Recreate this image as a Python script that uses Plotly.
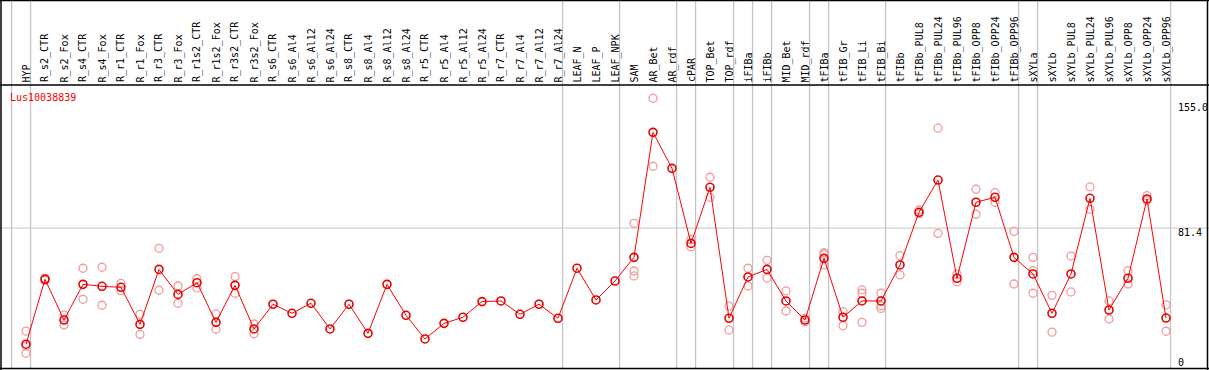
import plotly.graph_objects as go

W, H = 1209, 370

categories = [
    "HYP", "R_s2_CTR", "R_s2_Fox", "R_s4_CTR", "R_s4_Fox", "R_r1_CTR", "R_r1_Fox",
    "R_r3_CTR", "R_r3_Fox", "R_r1s2_CTR", "R_r1s2_Fox", "R_r3s2_CTR", "R_r3s2_Fox",
    "R_s6_CTR", "R_s6_Al4", "R_s6_Al12", "R_s6_Al24", "R_s8_CTR", "R_s8_Al4",
    "R_s8_Al12", "R_s8_Al24", "R_r5_CTR", "R_r5_Al4", "R_r5_Al12", "R_r5_Al24",
    "R_r7_CTR", "R_r7_Al4", "R_r7_Al12", "R_r7_Al24", "LEAF_N", "LEAF_P", "LEAF_NPK",
    "SAM", "AR_Bet", "AR_rdf", "cPAR", "TOP_Bet", "TOP_rdf", "iFIBa", "iFIBb",
    "MID_Bet", "MID_rdf", "tFIBa", "tFIB_Gr", "tFIB_Li", "tFIB_Bi", "tFIBb",
    "tFIBb_PUL8", "tFIBb_PUL24", "tFIBb_PUL96", "tFIBb_OPP8", "tFIBb_OPP24",
    "tFIBb_OPP96", "sXYLa", "sXYLb", "sXYLb_PUL8", "sXYLb_PUL24", "sXYLb_PUL96",
    "sXYLb_OPP8", "sXYLb_OPP24", "sXYLb_OPP96",
]

mean_values = [
    10.8, 50.3, 25.5, 47.2, 46.0, 45.4, 22.9,
    56.3, 41.1, 48.2, 24.1, 46.6, 20.1,
    35.1, 29.6, 35.7, 20.1, 35.1, 17.4,
    47.2, 28.4, 14.0, 23.5, 27.2, 36.7,
    37.1, 29.0, 35.1, 26.6, 57.0, 37.7, 49.2,
    63.6, 139.6, 117.7, 72.1, 106.2, 26.6, 51.7, 56.3,
    37.1, 25.5, 63.0, 27.2, 37.1, 37.1, 59.0,
    91.0, 110.6, 50.9, 97.1, 100.1,
    63.6, 53.5, 29.6, 53.5, 99.5, 31.6,
    50.9, 99.1, 26.7,
]

replicate_values = [
    [18.8, 9.7, 5.3], [50.9, 49.6], [28.6, 22.5], [57.0, 38.1], [57.6, 34.5], [47.8, 43.4], [29.0, 16.8],
    [69.1, 43.6], [46.2, 35.7], [50.6, 45.0], [29.2, 19.9], [51.9, 41.8], [23.1, 17.2],
    [], [], [], [], [], [],
    [], [], [], [], [], [],
    [], [], [], [], [], [], [],
    [84.3, 55.3, 52.3], [160.3, 119.0], [], [74.6, 70.1], [112.3, 100.1], [34.0, 19.5], [57.0, 46.2], [61.8, 51.1],
    [43.2, 31.0], [26.7, 24.5], [66.5, 65.5, 59.0], [30.6, 22.1], [43.8, 41.8, 24.1], [41.8, 34.2, 32.6], [64.6, 52.9],
    [92.4, 90.2], [142.1, 78.2], [53.5, 48.8], [105.0, 89.8], [102.9, 97.1],
    [79.4, 47.4], [63.6, 55.5, 41.8], [40.5, 18.1], [64.4, 42.6], [106.4, 92.8], [37.1, 26.1],
    [55.5, 47.4], [101.1, 98.1], [34.7, 18.7],
]

group_break_after = [-1, 0, 28, 31, 34, 35, 37, 38, 39, 41, 42, 45, 52, 53, 60]

tick_values = [155.0, 81.4, 0]
tick_labels = ["155.0", "81.4", "0"]
title_text = "Lus10038839"

# ---- geometry -------------------------------------------------------------
x_first_px, x_step_px = 26.0, 19.0
x_lo = -x_first_px / x_step_px
x_hi = x_lo + W / x_step_px
y_zero_px, y_scale = 362.0, 255.0 / 155.0
y_hi = y_zero_px / y_scale
y_lo = (y_zero_px - H) / y_scale


def px(p):
    return p / W


def py(p):
    return 1 - p / H


FONT = "DejaVu Sans Mono"
xs = list(range(len(categories)))

fig = go.Figure()

rep_x, rep_y = [], []
for i, reps in enumerate(replicate_values):
    for v in reps:
        rep_x.append(i)
        rep_y.append(v)

fig.add_trace(go.Scatter(
    x=rep_x, y=rep_y, mode="markers", hoverinfo="skip",
    marker=dict(symbol="circle-open", size=8, color="#f09a9a", line=dict(width=1.3)),
))
fig.add_trace(go.Scatter(
    x=xs, y=mean_values, mode="lines+markers",
    line=dict(color="#ff0000", width=1),
    marker=dict(symbol="circle-open", size=8, color="#e80000", line=dict(width=1.6)),
))

shapes = []
# horizontal grid line
shapes.append(dict(type="line", xref="paper", yref="y", x0=0, x1=1, y0=tick_values[1], y1=tick_values[1],
                   line=dict(color="#c4c4c4", width=1), layer="below"))
# group separators
for b in group_break_after:
    shapes.append(dict(type="line", xref="x", yref="paper", x0=b + 0.24, x1=b + 0.24,
                       y0=py(368), y1=1, line=dict(color="#c4c4c4", width=1.3), layer="below"))
# frame
blk = dict(color="black", width=1.5)
shapes += [
    dict(type="line", xref="paper", yref="paper", x0=0, x1=1, y0=py(0.5), y1=py(0.5), line=blk),
    dict(type="line", xref="paper", yref="paper", x0=0, x1=1, y0=py(85), y1=py(85), line=blk),
    dict(type="line", xref="paper", yref="paper", x0=0, x1=1, y0=py(368.5), y1=py(368.5), line=blk),
    dict(type="line", xref="paper", yref="paper", x0=px(1), x1=px(1), y0=0, y1=1, line=blk),
    dict(type="line", xref="paper", yref="paper", x0=px(1207.5), x1=px(1207.5), y0=0, y1=1, line=blk),
]

annotations = []
for i, c in enumerate(categories):
    annotations.append(dict(
        x=i, xref="x", y=py(83.5), yref="paper", text=c, showarrow=False,
        textangle=-90, xanchor="center", yanchor="bottom", borderpad=0,
        font=dict(family=FONT, size=10, color="black"),
    ))
annotations.append(dict(
    x=px(9), xref="paper", y=py(97), yref="paper", text=title_text, showarrow=False,
    xanchor="left", yanchor="middle", borderpad=0,
    font=dict(family=FONT, size=10, color="#ff0000"),
))
shifts = [0, -4, 0]
for v, t, s in zip(tick_values, tick_labels, shifts):
    annotations.append(dict(
        x=px(1177), xref="paper", y=v, yref="y", yshift=s, text=t, showarrow=False,
        xanchor="left", yanchor="middle", borderpad=0,
        font=dict(family=FONT, size=10, color="black"),
    ))

fig.update_layout(
    width=W, height=H, margin=dict(l=0, r=0, t=0, b=0),
    paper_bgcolor="white", plot_bgcolor="white", showlegend=False,
    xaxis=dict(range=[x_lo, x_hi], visible=False, fixedrange=True),
    yaxis=dict(range=[y_lo, y_hi], visible=False, fixedrange=True),
    shapes=shapes, annotations=annotations,
)

fig.write_html(
    "out.html",
    config={"displayModeBar": False},
    post_script="document.body.style.margin='0';document.body.style.padding='0';document.body.style.overflow='hidden';",
)
